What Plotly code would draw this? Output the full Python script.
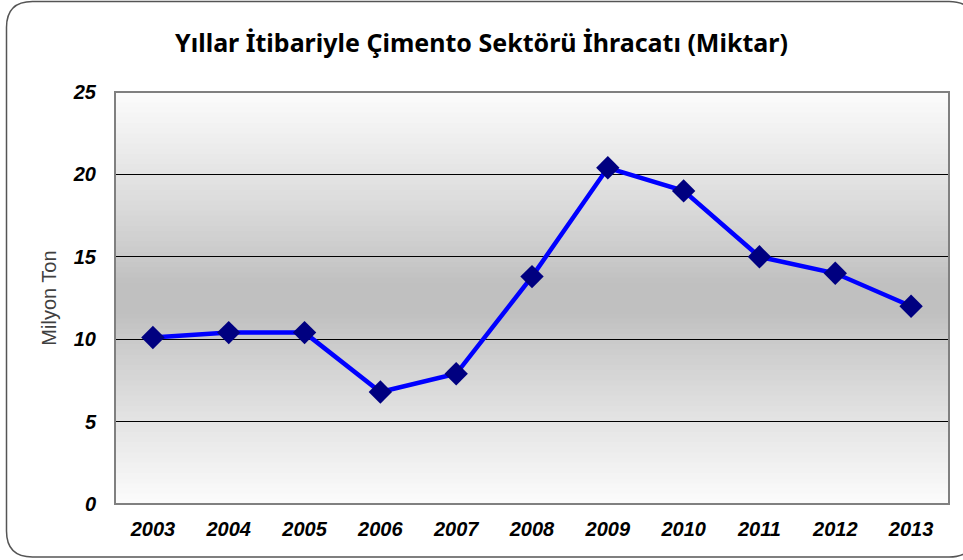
import plotly.graph_objects as go

years = ["2003", "2004", "2005", "2006", "2007", "2008", "2009", "2010", "2011", "2012", "2013"]
export_mt = [10.1, 10.4, 10.4, 6.8, 7.9, 13.8, 20.4, 19.0, 15.0, 14.0, 12.0]
y_ticks = [0, 5, 10, 15, 20, 25]

W, H = 963, 560
L, R, T, B = 115, 14, 92, 56
pw, ph = W - L - R, H - T - B

def px(x):
    return (x - L) / pw

def py(y):
    return (H - B - y) / ph

shapes = []
# gradient background bands (white -> gray -> white)
n = 80
for i in range(n):
    f0 = i / n
    f1 = (i + 1) / n
    c = (f0 + f1) / 2  # 0 bottom -> 1 top
    d = abs(c - 0.5) * 2  # 0 centre -> 1 edges
    d = max(0.0, (d - 0.08) / 0.92)
    v = int(round(192 + (252 - 192) * d ** 0.9))
    shapes.append(dict(type="rect", xref="x domain", yref="y domain",
                       x0=0, x1=1, y0=f0, y1=f1 + 0.002, layer="below",
                       line=dict(width=0), fillcolor=f"rgb({v},{v},{v})"))
# plot border
shapes.append(dict(type="rect", xref="x domain", yref="y domain", x0=0, x1=1, y0=0, y1=1,
                   line=dict(color="#808080", width=2), layer="above"))
# outer rounded chart border
r = 26
x0, x1, y0, y1 = 6.5, 975, 1.5, 557
path = (f"M {px(x0 + r)},{py(y0)} L {px(x1 - r)},{py(y0)} "
        f"Q {px(x1)},{py(y0)} {px(x1)},{py(y0 + r)} L {px(x1)},{py(y1 - r)} "
        f"Q {px(x1)},{py(y1)} {px(x1 - r)},{py(y1)} L {px(x0 + r)},{py(y1)} "
        f"Q {px(x0)},{py(y1)} {px(x0)},{py(y1 - r)} L {px(x0)},{py(y0 + r)} "
        f"Q {px(x0)},{py(y0)} {px(x0 + r)},{py(y0)} Z")
shapes.append(dict(type="path", xref="paper", yref="paper", path=path,
                   line=dict(color="#555555", width=1.5), layer="below"))

fig = go.Figure(go.Scatter(
    x=years, y=export_mt, mode="lines+markers",
    line=dict(color="#0000FF", width=4.5),
    marker=dict(symbol="diamond", size=18, color="#000080",
                line=dict(color="#000080", width=0)),
    cliponaxis=False, showlegend=False))

fig.update_layout(
    width=W, height=H,
    margin=dict(l=L, r=R, t=T, b=B),
    paper_bgcolor="white", plot_bgcolor="rgba(0,0,0,0)",
    shapes=shapes,
    title=dict(text="Yıllar İtibariyle Çimento Sektörü İhracatı (Miktar)",
               x=0.5, xref="container", xanchor="center", y=1 - 43 / H, yanchor="middle",
               font=dict(family="Noto Sans", size=25, color="black", weight="bold")),
)
fig.update_xaxes(type="category", range=[-0.5, 10.5], showgrid=False, zeroline=False,
                 showline=False, ticks="", ticklabelstandoff=11,
                 tickfont=dict(family="Liberation Sans", size=20, color="black",
                               weight="bold", style="italic"))
fig.update_yaxes(range=[0, 25], tickvals=y_ticks, showgrid=True, gridcolor="black",
                 gridwidth=1, zeroline=False, showline=False, ticks="",
                 ticklabelstandoff=18,
                 tickfont=dict(family="Liberation Sans", size=20, color="black",
                               weight="bold", style="italic"),
                 title=dict(text="Milyon Ton", standoff=10,
                            font=dict(family="Liberation Sans", size=20, color="#404040")))

fig.write_html("out.html", config={"displayModeBar": False},
               post_script="document.body.style.margin='0';")
